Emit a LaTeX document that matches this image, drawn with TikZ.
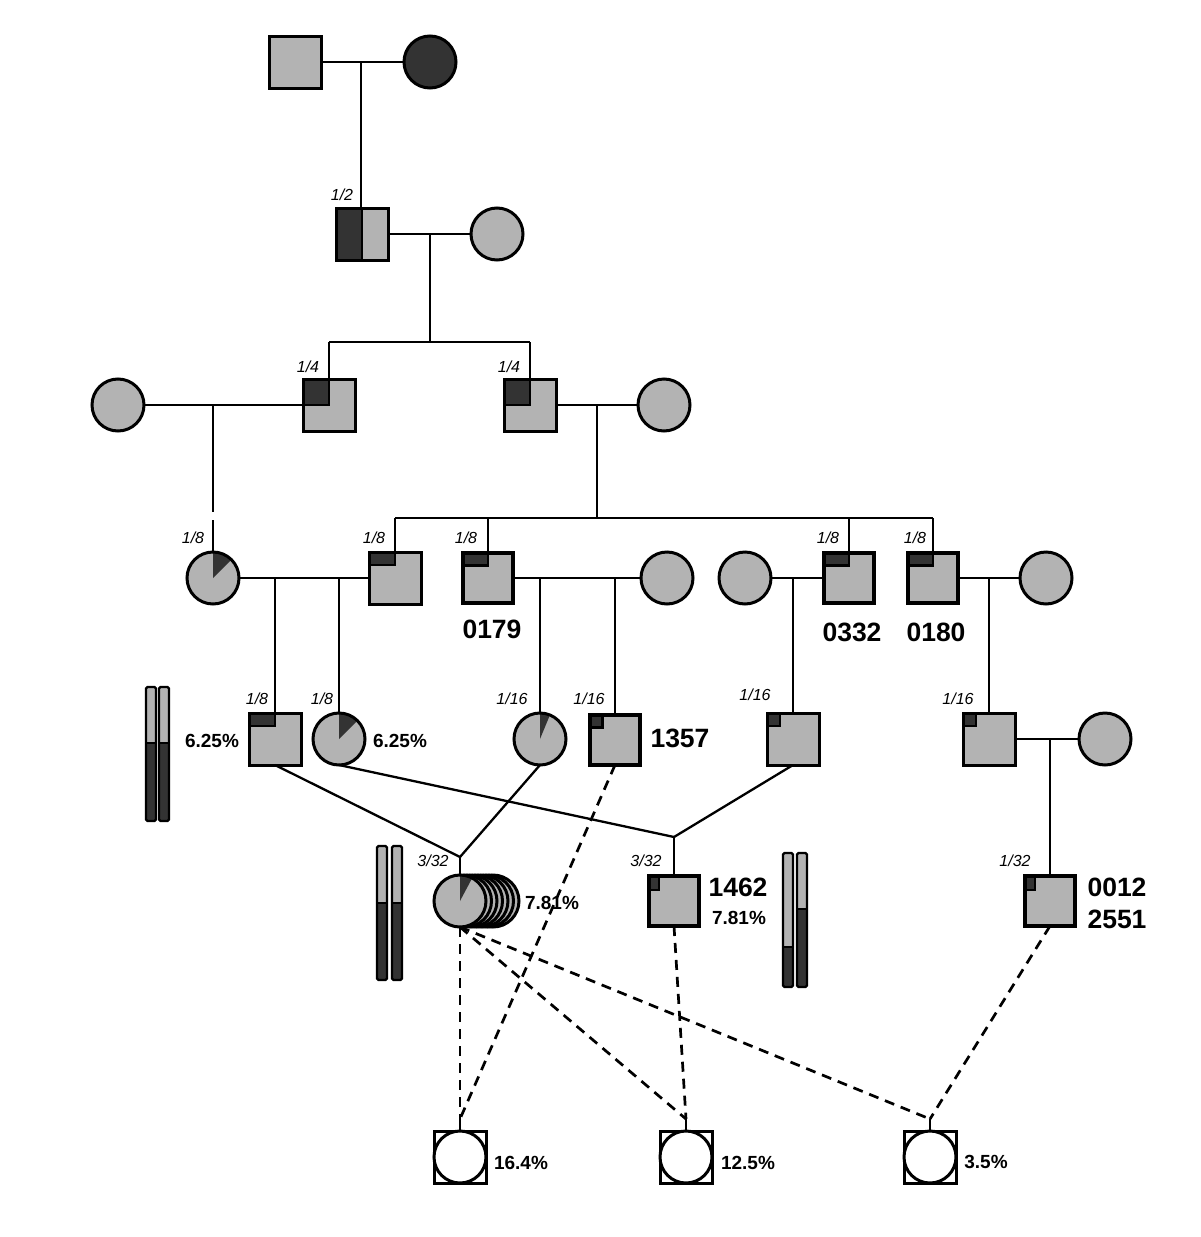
\documentclass[tikz,border=0pt]{standalone}
\usepackage{fontspec}
\setmainfont{Liberation Sans}
\usetikzlibrary{calc}
\definecolor{pgrey}{HTML}{B3B3B3}
\definecolor{pdark}{HTML}{333333}
\newcommand\frlab{\fontsize{16}{18}\selectfont\itshape}
\newcommand\pclab{\fontsize{19}{21}\selectfont\bfseries}
\newcommand\idlab{\fontsize{26.5}{30}\selectfont\bfseries}
\tikzset{
  conn/.style={line width=2.3pt},
  dsh/.style={line width=2.7pt, dash pattern=on 10pt off 7pt},
  ind/.style={draw, fill=pgrey, inner sep=0pt, outer sep=0pt, line width=3pt},
  sq/.style={ind, rectangle, minimum size=52pt},
  sqb/.style={ind, rectangle, minimum size=50pt, line width=4.5pt},
  ci/.style={ind, circle, minimum size=52pt},
  darkmark/.style={fill=pdark, draw=black, line width=2.3pt},
  qhalf/.style={path picture={\filldraw[darkmark] (path picture bounding box.north west) rectangle (path picture bounding box.south);}},
  qquart/.style={path picture={\filldraw[darkmark] (path picture bounding box.north west) rectangle (path picture bounding box.center);}},
  qeighth/.style={path picture={\filldraw[darkmark] (path picture bounding box.north west) rectangle ($(path picture bounding box.north)!0.5!(path picture bounding box.center)$);}},
  qsixteenth/.style={path picture={\filldraw[darkmark] (path picture bounding box.north west) rectangle ($(path picture bounding box.north west)!0.5!(path picture bounding box.center)$);}},
  qsmall/.style={path picture={\filldraw[darkmark, line width=1.8pt] (path picture bounding box.north west) rectangle ($(path picture bounding box.north west)+(10pt,-14pt)$);}},
  wedge/.style={path picture={\fill[pdark] (path picture bounding box.center) -- ($(path picture bounding box.center)+(90:40pt)$) -- ($(path picture bounding box.center)+(#1:40pt)$) -- cycle;}},
  frac/.style={inner sep=0pt, font=\frlab},
  pct/.style={inner sep=0pt, font=\pclab},
  idn/.style={inner sep=0pt, font=\idlab},
}
\begin{document}
\begin{tikzpicture}[x=1pt, y=-1pt]
\useasboundingbox (0,0) rectangle (1200,1237);

% ---------- generation 1
\node[sq] (g1f) at (295,62) {};
\node[ci, fill=pdark] (g1m) at (430,62) {};
\coordinate (j1) at (361,62);

% ---------- generation 2
\node[sq, qhalf] (g2) at (362,234) {};
\node[ci] (w2) at (497,234) {};
\node[frac] (l2) at (342,195) {1/2};
\coordinate (j2) at (430,234);
\coordinate (s2l) at (329,342);
\coordinate (s2m) at (430,342);
\coordinate (s2r) at (530,342);

% ---------- generation 3
\node[sq, qquart] (g3a) at (329,405) {};
\node[sq, qquart] (g3b) at (530,405) {};
\node[frac] (l3a) at (308,367) {1/4};
\node[frac] (l3b) at (509,367) {1/4};
\node[ci] (w3a) at (118,405) {};
\node[ci] (w3b) at (664,405) {};
\coordinate (j3a) at (213,405);
\coordinate (gapA) at (213,512);
\coordinate (gapB) at (213,520);
\coordinate (j3b) at (597,405);
\coordinate (s3l) at (395,518);
\coordinate (s3m) at (597,518);
\coordinate (s3c) at (488,518);
\coordinate (s3d) at (849,518);
\coordinate (s3r) at (933,518);

% ---------- generation 4
\node[ci, wedge=45] (g4a) at (213,578) {};
\node[sq, qeighth] (g4b) at (395,578) {};
\node[sqb, qeighth] (g4c) at (488,578) {};
\node[ci] (w4c) at (667,578) {};
\node[ci] (w4d) at (745,578) {};
\node[sqb, qeighth] (g4d) at (849,578) {};
\node[sqb, qeighth] (g4e) at (933,578) {};
\node[ci] (w4e) at (1046,578) {};
\node[frac] (l4a) at (193,538) {1/8};
\node[frac] (l4b) at (374,538) {1/8};
\node[frac] (l4c) at (466,538) {1/8};
\node[frac] (l4d) at (828,538) {1/8};
\node[frac] (l4e) at (915,538) {1/8};
\node[idn] (n0179) at (492,629) {0179};
\node[idn] (n0332) at (852,632) {0332};
\node[idn] (n0180) at (936,632) {0180};
\coordinate (j4a1) at (275,578);
\coordinate (j4a2) at (339,578);
\coordinate (j4c1) at (540,578);
\coordinate (j4c2) at (615,578);
\coordinate (j4d) at (793,578);
\coordinate (j4e) at (989,578);

% ---------- generation 5
\node[sq, qeighth] (g5a) at (275,739) {};
\node[ci, wedge=45] (g5b) at (339,739) {};
\node[ci, wedge=67.5] (g5c) at (540,739) {};
\node[sqb, qsixteenth] (g5d) at (615,740) {};
\node[sq, qsixteenth] (g5e) at (793,739) {};
\node[sq, qsixteenth] (g5f) at (989,739) {};
\node[ci] (w5f) at (1105,739) {};
\node[frac] (l5a) at (257,699) {1/8};
\node[frac] (l5b) at (322,699) {1/8};
\node[frac] (l5c) at (512,699) {1/16};
\node[frac] (l5d) at (589,699) {1/16};
\node[frac] (l5e) at (755,695) {1/16};
\node[frac] (l5f) at (958,699) {1/16};
\node[pct] (p5a) at (212,741) {6.25\%};
\node[pct] (p5b) at (400,741) {6.25\%};
\node[idn] (n1357) at (680,738) {1357};
\coordinate (j5f) at (1050,739);

% ---------- generation 6
\coordinate (ja) at (460,857);
\coordinate (jb) at (674,837);
\foreach \k/\dx in {1/33,2/27.5,3/22,4/16.5,5/11,6/5.5}{
  \node[ci] (stack\k) at (460+\dx,901) {};
}
\node[ci, wedge=62] (g6a) at (460,901) {};
\node[sqb, qsmall] (g6b) at (674,901) {};
\node[sqb, qsmall] (g6c) at (1050,901) {};
\node[frac] (l6a) at (433,861) {3/32};
\node[frac] (l6b) at (646,861) {3/32};
\node[frac] (l6c) at (1015,861) {1/32};
\node[pct] (p6a) at (552,903) {7.81\%};
\node[idn] (n1462) at (738,887) {1462};
\node[pct] (p6b) at (739,918) {7.81\%};
\node[idn] (n0012) at (1117,887) {0012};
\node[idn] (n2551) at (1117,919) {2551};

% ---------- generation 7
\foreach \n/\x in {b1/460,b2/686,b3/930}{
  \node[sq, fill=white] (\n) at (\x,1157) {};
  \node[ci, fill=white] (\n c) at (\x,1157) {};
  \coordinate (\n t) at (\x,1119);
}
\node[pct] (p7a) at (521,1163) {16.4\%};
\node[pct] (p7b) at (748,1163) {12.5\%};
\node[pct] (p7c) at (986,1162) {3.5\%};

% ---------- connectors
\draw[conn] (g1f) -- (g1m);
\draw[conn] (j1) -- (j1 |- g2.north);
\draw[conn] (g2) -- (w2);
\draw[conn] (j2) -- (s2m);
\draw[conn] (s2l) -- (s2r);
\draw[conn] (s2l) -- (g3a.north);
\draw[conn] (s2r) -- (g3b.north);
\draw[conn] (w3a) -- (g3a);
\draw[conn] (g3b) -- (w3b);
\draw[conn] (j3a) -- (gapA);
\draw[conn] (gapB) -- (g4a.north);
\draw[conn] (j3b) -- (s3m);
\draw[conn] (s3l) -- (s3r);
\draw[conn] (s3l) -- (g4b.north);
\draw[conn] (s3c) -- (g4c.north);
\draw[conn] (s3d) -- (g4d.north);
\draw[conn] (s3r) -- (g4e.north);
\draw[conn] (g4a) -- (g4b);
\draw[conn] (j4a1) -- (g5a.north);
\draw[conn] (j4a2) -- (g5b.north);
\draw[conn] (g4c) -- (w4c);
\draw[conn] (j4c1) -- (g5c.north);
\draw[conn] (j4c2) -- (g5d.north);
\draw[conn] (w4d) -- (g4d);
\draw[conn] (j4d) -- (g5e.north);
\draw[conn] (g4e) -- (w4e);
\draw[conn] (j4e) -- (g5f.north);
\draw[conn] (g5f) -- (w5f);
\draw[conn] (j5f) -- (g6c.north);
\draw[conn] (g5a.south) -- (ja);
\draw[conn] (g5c.south) -- (ja);
\draw[conn] (ja) -- (g6a.north);
\draw[conn] (g5b.south) -- (jb);
\draw[conn] (g5e.south) -- (jb);
\draw[conn] (jb) -- (g6b.north);
\draw[dsh] (g6a.south) -- (b1t);
\draw[dsh] (g6a.south) -- (b2t);
\draw[dsh] (g6a.south) -- (b3t);
\draw[dsh] (g5d.south) -- (b1t);
\draw[dsh] (g6b.south) -- (b2t);
\draw[dsh] (g6c.south) -- (b3t);
\draw[conn] (b1t) -- (b1.north);
\draw[conn] (b2t) -- (b2.north);
\draw[conn] (b3t) -- (b3.north);

% ---------- chromosome bars
\foreach \xa/\top/\mid/\bot in {146/687/743/821, 159/687/743/821, 377/846/903/980, 392/846/903/980, 783/853/947/987, 797/853/909/987}{
  \fill[pgrey] (\xa,\top) rectangle (\xa+10,\mid);
  \fill[pdark] (\xa,\mid) rectangle (\xa+10,\bot);
  \draw[line width=2pt] (\xa,\mid) -- (\xa+10,\mid);
  \draw[line width=2.3pt, rounded corners=1.5pt] (\xa,\top) rectangle (\xa+10,\bot);
}
\end{tikzpicture}
\end{document}
